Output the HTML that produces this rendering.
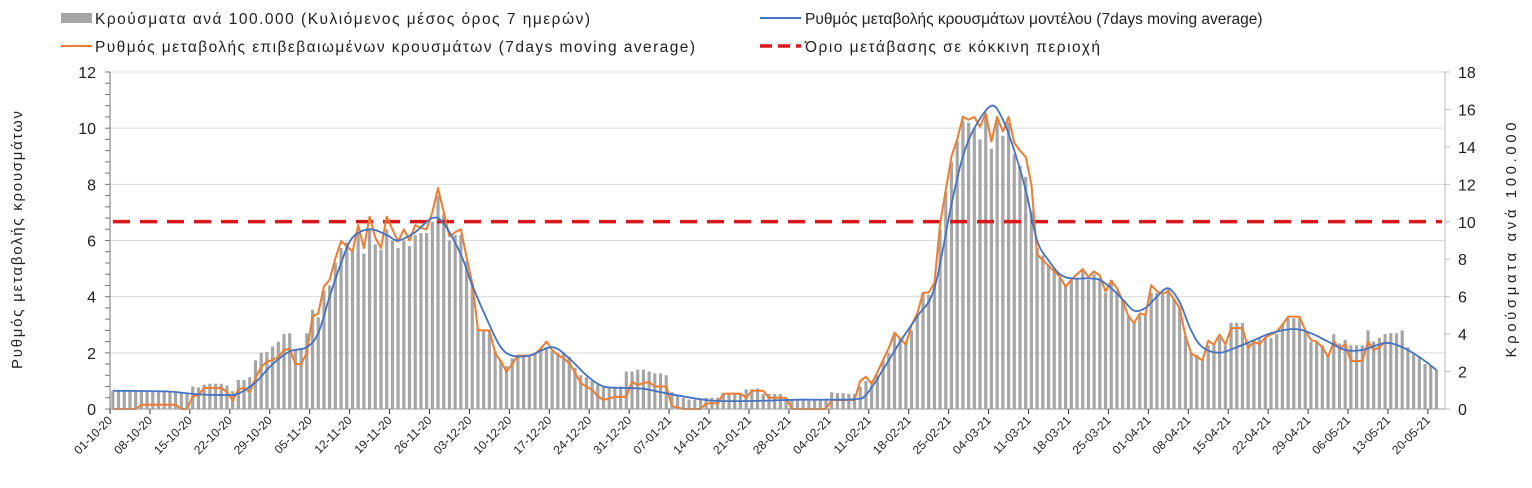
<!DOCTYPE html>
<html><head><meta charset="utf-8"><style>
body{margin:0;background:#fff;}
svg{display:block;font-family:"Liberation Sans","DejaVu Sans",sans-serif;}
</style></head><body>
<svg id="chart" width="1532" height="488" viewBox="0 0 1532 488">
<g id="legend">
 <g><rect x="61" y="13" width="31" height="10" fill="#a6a6a6"/><text x="95" y="24" font-size="15.5" fill="#222" textLength="495" lengthAdjust="spacing">Κρούσματα ανά 100.000 (Κυλιόμενος μέσος όρος 7 ημερών)</text></g>
 <g><line x1="760" y1="18" x2="801" y2="18" stroke="#4472c4" stroke-width="2"/><text x="805" y="24" font-size="15.5" fill="#222">Ρυθμός μεταβολής κρουσμάτων μοντέλου (7days moving average)</text></g>
 <g><line x1="61" y1="46" x2="92" y2="46" stroke="#ed7d31" stroke-width="2"/><text x="95" y="52" font-size="15.5" fill="#222" textLength="600" lengthAdjust="spacing">Ρυθμός μεταβολής επιβεβαιωμένων κρουσμάτων (7days moving average)</text></g>
 <g><line x1="760" y1="46" x2="801" y2="46" stroke="#d7191c" stroke-width="3.5" stroke-dasharray="12,6"/><text x="805" y="52" font-size="15.5" fill="#222" textLength="295" lengthAdjust="spacing">Όριο μετάβασης σε κόκκινη περιοχή</text></g>
</g>
<text transform="translate(22,240) rotate(-90)" text-anchor="middle" font-size="15" fill="#222" textLength="258" lengthAdjust="spacing">Ρυθμός μεταβολής κρουσμάτων</text>
<text transform="translate(1516,240) rotate(-90)" text-anchor="middle" font-size="15" fill="#222" textLength="235" lengthAdjust="spacing">Κρούσματα ανά 100.000</text>
<g id="grid"></g><g id="bars"></g><g id="lines"></g><g id="axes"></g>
</svg>
<script>
const barValues=[0.95,0.95,0.95,0.95,0.95,0.95,0.95,0.95,0.95,0.95,0.95,0.95,0.85,0.8,1.2,1.15,1.3,1.35,1.35,1.35,1.25,0.95,1.55,1.55,1.7,2.6,3.0,3.05,3.35,3.6,4.0,4.05,3.2,3.25,4.05,5.3,4.9,6.3,6.6,7.8,8.6,8.9,8.4,9.4,8.3,9.6,8.8,8.5,9.6,9.0,8.6,9.0,8.7,9.3,9.4,9.4,10.0,11.4,10.4,9.0,9.3,9.3,7.9,6.7,4.3,4.2,4.2,3.1,2.6,2.3,2.7,2.9,2.9,2.9,3.0,3.2,3.3,3.1,3.0,3.0,2.8,2.2,1.8,1.7,1.5,1.3,1.2,1.2,1.2,1.2,2.0,2.0,2.1,2.1,2.0,1.9,1.9,1.8,0.9,0.7,0.6,0.5,0.5,0.5,0.6,0.6,0.6,0.85,0.85,0.85,0.8,1.05,1.05,1.1,0.8,0.8,0.8,0.8,0.45,0.45,0.45,0.45,0.45,0.45,0.45,0.45,0.9,0.85,0.85,0.8,0.8,1.2,1.5,1.3,1.8,2.6,3.0,4.0,3.8,3.6,4.2,5.0,6.2,6.1,6.6,9.6,11.6,13.2,14.3,15.4,15.3,15.0,14.4,15.7,13.9,15.5,14.6,15.3,13.6,13.0,12.4,10.6,8.6,8.2,7.7,7.5,7.0,6.6,6.9,7.0,7.4,6.9,7.2,7.0,6.2,6.9,6.3,5.8,4.9,4.6,5.0,5.0,6.2,6.2,6.1,6.4,5.9,5.4,3.9,3.0,2.9,2.6,3.4,3.5,3.8,3.4,4.6,4.6,4.6,3.6,3.6,3.8,3.8,3.8,4.0,4.5,4.85,4.85,4.85,4.2,3.6,3.6,3.4,2.9,4.0,3.5,3.7,3.4,3.4,3.4,4.2,3.6,3.8,4.0,4.05,4.05,4.2,3.3,3.0,2.8,2.4,2.3,2.1];
const orangeValues=[0,0,0,0,0,0.15,0.15,0.15,0.15,0.15,0.15,0.15,0,0,0.45,0.5,0.75,0.75,0.75,0.75,0.6,0.3,0.7,0.75,0.6,1.1,1.5,1.68,1.75,1.85,2.1,2.15,1.6,1.6,2.0,3.3,3.4,4.36,4.6,5.37,5.98,5.8,5.6,6.55,5.73,6.85,6.1,5.73,6.85,6.4,5.96,6.4,6.0,6.55,6.45,6.4,7.0,7.87,7.0,6.14,6.3,6.4,5.4,4.48,2.81,2.8,2.8,2.0,1.7,1.33,1.6,1.9,1.9,1.9,1.95,2.15,2.4,2.1,1.92,1.8,1.63,1.3,0.92,0.8,0.68,0.45,0.32,0.38,0.43,0.43,0.43,0.97,0.85,0.93,0.95,0.8,0.8,0.8,0.1,0.05,0,0,0,0,0.2,0.2,0.2,0.55,0.55,0.55,0.55,0.4,0.65,0.65,0.65,0.4,0.4,0.4,0.4,0,0,0,0,0,0,0,0.32,0.32,0.32,0.32,0.32,1.0,1.15,0.9,1.3,1.74,2.17,2.72,2.5,2.3,3.0,3.4,4.14,4.15,4.48,6.6,7.8,9.0,9.6,10.41,10.3,10.4,10.05,10.53,9.52,10.4,9.88,10.4,9.47,9.2,8.98,8.0,5.5,5.3,5.1,4.9,4.71,4.36,4.6,4.8,4.98,4.7,4.9,4.75,4.18,4.56,4.3,3.85,3.3,3.06,3.4,3.35,4.41,4.2,4.1,4.2,3.9,3.6,2.6,1.99,1.85,1.74,2.43,2.3,2.65,2.3,2.88,2.88,2.88,2.17,2.4,2.3,2.55,2.65,2.75,3.0,3.29,3.29,3.29,2.81,2.46,2.4,2.2,1.86,2.4,2.15,2.3,1.71,1.71,1.71,2.4,2.1,2.2,2.4];
const blueDays=[0,5,10,15,20,22,25,28,31,34,36,38,40,42,45,48,50,53,56,58,61,63,66,68,70,73,77,80,83,86,90,93,96,100,105,110,115,120,125,130,132,135,138,141,144,147,149,151,154,156,158,160,162,164,166,168,171,173,175,177,179,181,183,185,187,189,191,194,197,200,203,207,210,213,216,219,223,226,229,232];
const blueValues=[0.65,0.64,0.62,0.52,0.5,0.55,0.95,1.6,2.05,2.2,2.7,4.0,5.2,6.1,6.4,6.2,6.0,6.3,6.8,6.6,5.5,4.4,3.0,2.2,1.9,1.9,2.2,1.8,1.2,0.8,0.75,0.72,0.6,0.45,0.3,0.28,0.3,0.33,0.33,0.35,0.5,1.4,2.4,3.3,4.3,7.3,9.0,10.0,10.8,10.3,9.2,7.8,6.0,5.3,4.8,4.65,4.65,4.6,4.3,3.9,3.5,3.6,4.0,4.3,3.8,2.8,2.2,2.0,2.2,2.45,2.7,2.85,2.7,2.4,2.1,2.1,2.35,2.2,1.85,1.39];
const thresholdValue=[6.67];
const leftTicks=[0,2,4,6,8,10,12];
const rightTicks=[0,2,4,6,8,10,12,14,16,18];
const xTickLabels=["01-10-20","08-10-20","15-10-20","22-10-20","29-10-20","05-11-20","12-11-20","19-11-20","26-11-20","03-12-20","10-12-20","17-12-20","24-12-20","31-12-20","07-01-21","14-01-21","21-01-21","28-01-21","04-02-21","11-02-21","18-02-21","25-02-21","04-03-21","11-03-21","18-03-21","25-03-21","01-04-21","08-04-21","15-04-21","22-04-21","29-04-21","06-05-21","13-05-21","20-05-21"];

const NS="http://www.w3.org/2000/svg";
const X0=110,X1=1445,NDAYS=234,Y0=409,YT=72;
const dayW=(X1-X0)/NDAYS;
const xDay=d=>X0+dayW*(d+0.5);
const xEdge=d=>X0+dayW*d;
const yL=v=>Y0-(Y0-YT)*v/12;
const yR=v=>Y0-(Y0-YT)*v/18;
function mk(tag,attrs,parent){const e=document.createElementNS(NS,tag);for(const k in attrs)e.setAttribute(k,attrs[k]);parent.appendChild(e);return e;}
const grid=document.getElementById('grid'),bars=document.getElementById('bars'),lines=document.getElementById('lines'),axes=document.getElementById('axes');

leftTicks.forEach(v=>{if(v>0){const g=mk('line',{x1:X0,x2:X1,y1:yL(v),y2:yL(v),stroke:'#d9d9d9','stroke-width':1},grid);

}
const t=mk('text',{x:96,y:yL(v)+6,'text-anchor':'end','font-size':16,fill:'#222'},axes);t.textContent=v;

});
for(let v=0;v<=12.001;v+=0.4){mk('line',{x1:X0-5,x2:X0,y1:yL(v),y2:yL(v),stroke:'#777','stroke-width':1},axes);}
rightTicks.forEach(v=>{const t=mk('text',{x:1458,y:yR(v)+6,'font-size':16,fill:'#222'},axes);t.textContent=v;


mk('line',{x1:X1,x2:X1+5,y1:yR(v),y2:yR(v),stroke:'#bbb','stroke-width':1},axes);});

barValues.forEach((v,i)=>{const r=mk('rect',{x:xDay(i)-1.6,y:yR(v),width:3.2,height:Y0-yR(v),fill:'#a6a6a6'},bars);

});

const th=mk('line',{x1:113,x2:1442,y1:yL(thresholdValue[0]),y2:yL(thresholdValue[0]),stroke:'#d7191c','stroke-width':3.5,'stroke-dasharray':'17,10'},lines);



const op=orangeValues.map((v,i)=>(i?'L':'M')+xDay(i).toFixed(1)+','+yL(v).toFixed(1)).join('');
const o=mk('path',{d:op,fill:'none',stroke:'#ed7d31','stroke-width':2,'stroke-linejoin':'round'},lines);



const pts=blueDays.map((d,i)=>[xDay(d),yL(blueValues[i])]);
let bp='M'+pts[0][0]+','+pts[0][1];
for(let i=0;i<pts.length-1;i++){const p0=pts[Math.max(0,i-1)],p1=pts[i],p2=pts[i+1],p3=pts[Math.min(pts.length-1,i+2)];
const c1=[p1[0]+(p2[0]-p0[0])/6,p1[1]+(p2[1]-p0[1])/6],c2=[p2[0]-(p3[0]-p1[0])/6,p2[1]-(p3[1]-p1[1])/6];
bp+='C'+c1[0].toFixed(1)+','+c1[1].toFixed(1)+' '+c2[0].toFixed(1)+','+c2[1].toFixed(1)+' '+p2[0].toFixed(1)+','+p2[1].toFixed(1);}
const b=mk('path',{d:bp,fill:'none',stroke:'#4472c4','stroke-width':1.8},lines);



mk('line',{x1:X0,x2:X0,y1:YT,y2:Y0,stroke:'#777','stroke-width':1},axes);
mk('line',{x1:X1,x2:X1,y1:YT,y2:Y0,stroke:'#bbb','stroke-width':1},axes);
mk('line',{x1:X0,x2:X1,y1:Y0,y2:Y0,stroke:'#999','stroke-width':1},axes);
xTickLabels.forEach((s,i)=>{const x=xEdge(i*7);mk('line',{x1:x,x2:x,y1:Y0,y2:Y0+5,stroke:'#333','stroke-width':1},axes);
const t=mk('text',{x:0,y:0,'text-anchor':'end','font-size':12,fill:'#222',transform:`translate(${x+3},${Y0+12}) rotate(-45)`},axes);t.textContent=s;

});
</script>
</body></html>
